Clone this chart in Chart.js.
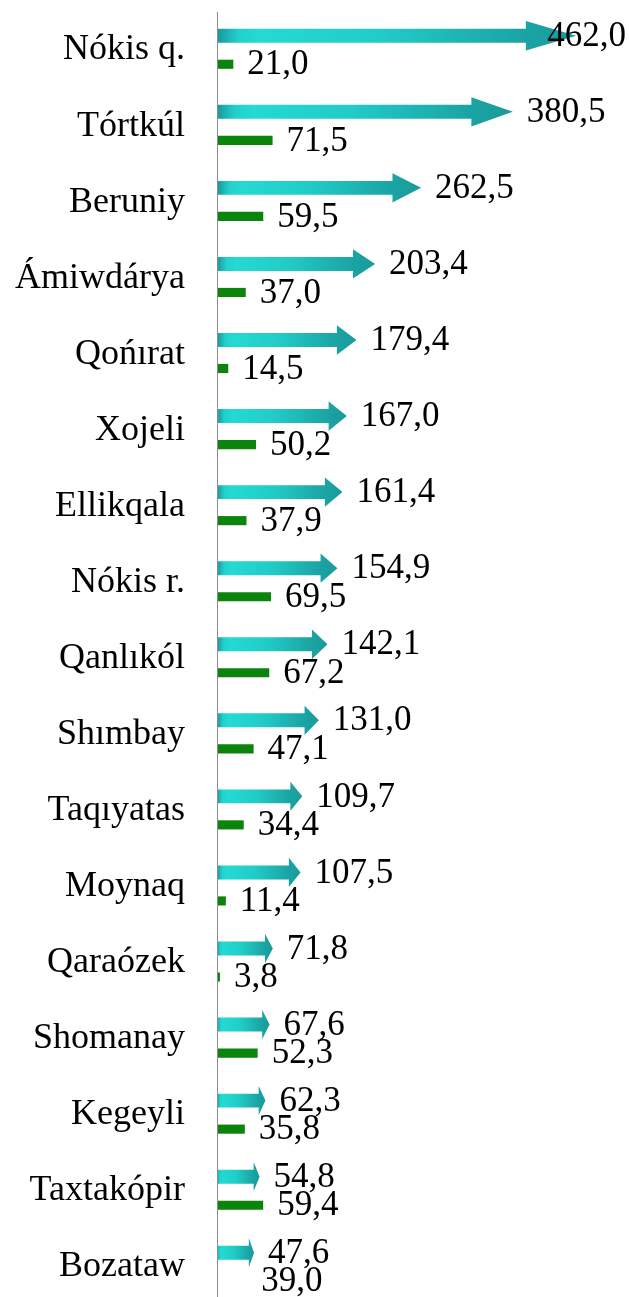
<!DOCTYPE html>
<html>
<head>
<meta charset="utf-8">
<script src="https://cdn.jsdelivr.net/npm/chart.js@4.4.1/dist/chart.umd.min.js"></script>
<style>
  html, body { margin: 0; padding: 0; background: #fff; }
  #wrap { width: 629px; height: 1297px; position: relative; }
</style>
</head>
<body>
<div id="wrap"><canvas id="districtChart"></canvas></div>
<script>
// districts, top to bottom
const districts = ['Nókis q.', 'Tórtkúl', 'Beruniy', 'Ámiwdárya', 'Qońırat', 'Xojeli', 'Ellikqala',
  'Nókis r.', 'Qanlıkól', 'Shımbay', 'Taqıyatas', 'Moynaq', 'Qaraózek', 'Shomanay', 'Kegeyli',
  'Taxtakópir', 'Bozataw'];
// main series (arrows)
const arrowValues = [462.0, 380.5, 262.5, 203.4, 179.4, 167.0, 161.4, 154.9, 142.1, 131.0, 109.7,
  107.5, 71.8, 67.6, 62.3, 54.8, 47.6];
// second series (thin green bars)
const barValues = [21.0, 71.5, 59.5, 37.0, 14.5, 50.2, 37.9, 69.5, 67.2, 47.1, 34.4, 11.4, 3.8,
  52.3, 35.8, 59.4, 39.0];

const fmt = v => v.toFixed(1).replace('.', ',');
const FONT = '"Liberation Serif", "Times New Roman", serif';

// draws each element of dataset 0 as a gradient arrow
const arrowPlugin = {
  id: 'arrows',
  afterDatasetsDraw(chart) {
    const ctx = chart.ctx;
    chart.getDatasetMeta(0).data.forEach(bar => {
      const x0 = bar.base, x1 = bar.x, y = bar.y, h = bar.height;
      const len = x1 - x0;
      const head = len * 0.14;
      const hh = h * 1.05;
      const g = ctx.createLinearGradient(x0, 0, x1, 0);
      g.addColorStop(0, '#1b9699');
      g.addColorStop(0.06, '#22d0cc');
      g.addColorStop(0.12, '#24dad3');
      g.addColorStop(0.45, '#21ccc7');
      g.addColorStop(0.85, '#1ba4a4');
      g.addColorStop(1, '#1a9a9a');
      ctx.save();
      ctx.fillStyle = g;
      ctx.beginPath();
      ctx.moveTo(x0, y - h / 2);
      ctx.lineTo(x1 - head, y - h / 2);
      ctx.lineTo(x1 - head, y - hh);
      ctx.lineTo(x1, y);
      ctx.lineTo(x1 - head, y + hh);
      ctx.lineTo(x1 - head, y + h / 2);
      ctx.lineTo(x0, y + h / 2);
      ctx.closePath();
      ctx.fill();
      ctx.restore();
    });
  }
};

// value labels after the end of each mark, plus the vertical axis line
const labelPlugin = {
  id: 'valueLabels',
  afterDraw(chart) {
    const ctx = chart.ctx;
    const W = chart.width;
    ctx.save();
    ctx.strokeStyle = '#8c8c8c';
    ctx.lineWidth = 1;
    ctx.beginPath();
    ctx.moveTo(chart.chartArea.left + 0.5, 12);
    ctx.lineTo(chart.chartArea.left + 0.5, chart.height);
    ctx.stroke();

    ctx.font = '35px ' + FONT;
    ctx.fillStyle = '#000';
    ctx.textBaseline = 'middle';
    chart.data.datasets.forEach((ds, di) => {
      chart.getDatasetMeta(di).data.forEach((el, i) => {
        const txt = fmt(ds.data[i]);
        const w = ctx.measureText(txt).width;
        let x = el.x + 14;
        if (x + w > W - 3) x = W - 3 - w;
        ctx.fillText(txt, x, el.y + 1);
      });
    });
    ctx.restore();
  }
};

new Chart(document.getElementById('districtChart'), {
  type: 'bar',
  data: {
    labels: districts,
    datasets: [{
      data: arrowValues,
      backgroundColor: 'rgba(0,0,0,0)',
      categoryPercentage: 0.75,
      barPercentage: 0.49
    }, {
      data: barValues,
      backgroundColor: '#0a840a',
      categoryPercentage: 0.75,
      barPercentage: 0.32
    }]
  },
  options: {
    indexAxis: 'y',
    responsive: true,
    maintainAspectRatio: false,
    animation: false,
    layout: { padding: { top: 50, bottom: 30, right: 0, left: 0 } },
    plugins: { legend: { display: false }, tooltip: { enabled: false } },
    scales: {
      x: { display: false, min: 0, max: 530 },
      y: {
        offset: false,
        grid: { display: false, drawTicks: false },
        border: { display: false },
        ticks: { color: '#000', padding: 32, font: { family: FONT, size: 36 } },
        afterFit(scale) {
          scale.width = 217;
          scale.paddingTop = 0;
          scale.paddingBottom = 0;
        }
      }
    }
  },
  plugins: [arrowPlugin, labelPlugin]
});
</script>
</body>
</html>
